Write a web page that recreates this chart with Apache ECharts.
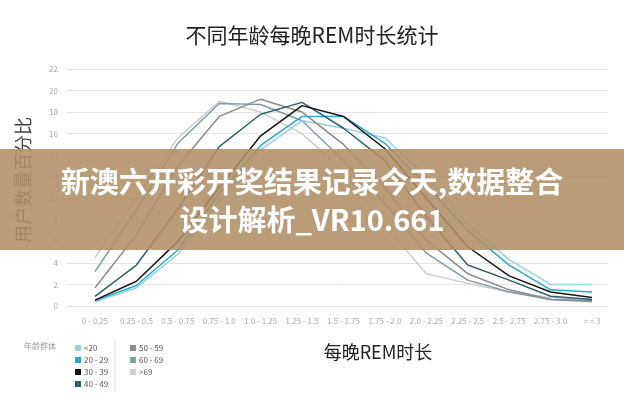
<!DOCTYPE html>
<html>
<head>
<meta charset="utf-8">
<script src="https://cdn.jsdelivr.net/npm/echarts@6/dist/echarts.min.js"></script>
<style>
  html, body { margin: 0; padding: 0; background: #fff; }
  #chart { width: 624px; height: 400px; }
</style>
</head>
<body>
<div id="chart"></div>
<script>
// 数据
const categories = ['0 - 0.25', '0.25 - 0.5', '0.5 - 0.75', '0.75 - 1.0', '1.0 - 1.25', '1.25 - 1.5',
  '1.5 - 1.75', '1.75 - 2.0', '2.0 - 2.25', '2.25 - 2.5', '2.5 - 2.75', '2.75 - 3.0', '> = 3'];
const yTicks = [0, 22, 2]; // min, max, interval

const ageUnder20 = [0.4, 1.7, 4.8, 9.8, 14.5, 17.2, 16.5, 15.6, 12.0, 7.6, 4.3, 2.0, 2.0];
const age20to29  = [0.5, 1.9, 5.2, 10.4, 14.9, 17.6, 17.6, 15.1, 11.2, 7.0, 3.8, 1.5, 1.3];
const age30to39  = [0.55, 2.3, 6.0, 11.0, 15.8, 18.6, 17.6, 14.6, 10.0, 5.5, 2.8, 1.3, 0.8];
const age40to49  = [0.9, 3.8, 9.0, 14.8, 17.8, 18.9, 16.5, 13.5, 8.3, 3.8, 2.4, 0.9, 0.6];
const age50to59  = [1.7, 6.6, 13.0, 17.6, 19.2, 18.0, 15.0, 11.0, 6.1, 3.0, 1.5, 0.6, 0.5];
const age60to69  = [3.2, 8.9, 15.1, 18.8, 18.7, 17.2, 13.5, 9.5, 4.9, 2.4, 1.3, 0.6, 0.4];
const ageOver69  = [4.5, 10.0, 15.6, 19.0, 18.0, 16.0, 12.5, 7.5, 3.0, 2.1, 1.3, 0.8, 0.6];

const seriesNames = ['<20', '20 - 29', '30 - 39', '40 - 49', '50 - 59', '60 - 69', '>69'];
const seriesData = [ageUnder20, age20to29, age30to39, age40to49, age50to59, age60to69, ageOver69];
const seriesColors = ['#94d2e4', '#2ba6cd', '#151515', '#2c6074', '#8a8a8a', '#7e9cab', '#cdcdcd'];
const seriesZ = [3, 4, 7, 6, 5, 2, 1];

const font = 'Noto Sans CJK SC';
const chart = echarts.init(document.getElementById('chart'));

const option = {
  backgroundColor: '#fff',
  animation: false,
  textStyle: { fontFamily: font },
  title: {
    text: '不同年龄每晚REM时长统计',
    left: 'center',
    top: 20,
    textStyle: { fontSize: 21, fontWeight: 'normal', color: '#222', fontFamily: font }
  },
  legend: [
    {
      data: seriesNames.slice(0, 4),
      orient: 'vertical',
      left: 70, top: 339,
      itemWidth: 6, itemHeight: 6, itemGap: 4,
      icon: 'rect',
      textStyle: { fontSize: 8, color: '#555', padding: [0, 0, 0, -2] }
    },
    {
      data: seriesNames.slice(4),
      orient: 'vertical',
      left: 125, top: 339,
      itemWidth: 6, itemHeight: 6, itemGap: 4,
      icon: 'rect',
      textStyle: { fontSize: 8, color: '#555', padding: [0, 0, 0, -2] }
    }
  ],
  grid: [
    { left: 67, right: 16, top: 69, bottom: 94 },
    { left: 95, right: 32, top: 69, bottom: 94 }
  ],
  xAxis: [
    { type: 'category', gridIndex: 0, data: categories, show: false },
    {
      type: 'category', gridIndex: 1, data: categories, boundaryGap: false,
      axisLine: { show: false }, axisTick: { show: false },
      axisLabel: { interval: 0, fontSize: 8, color: '#aaa', margin: 11 }
    }
  ],
  yAxis: [
    {
      type: 'value', gridIndex: 0,
      min: yTicks[0], max: yTicks[1], interval: yTicks[2],
      axisLine: { show: false }, axisTick: { show: false },
      axisLabel: { fontSize: 8, color: '#aaa', margin: 9 },
      splitLine: { lineStyle: { color: '#e4e4e4', width: 1 } }
    },
    {
      type: 'value', gridIndex: 1,
      min: yTicks[0], max: yTicks[1], interval: yTicks[2],
      show: false, splitLine: { show: false }
    }
  ],
  series: seriesNames.map((name, i) => ({
    name: name,
    type: 'line',
    xAxisIndex: 1,
    yAxisIndex: 1,
    data: seriesData[i],
    showSymbol: false,
    symbol: 'none',
    z: seriesZ[i],
    itemStyle: { color: seriesColors[i] },
    lineStyle: { color: seriesColors[i], width: 1.5 }
  })),
  graphic: [
    {
      type: 'text', x: 23, y: 180, rotation: Math.PI / 2,
      style: { text: '用户数量百分比', fontSize: 18, fill: '#444', fontFamily: font,
        textAlign: 'center', textVerticalAlign: 'middle' }
    },
    {
      type: 'text', x: 378, y: 352,
      style: { text: '每晚REM时长', fontSize: 18, fill: '#222', fontFamily: font,
        textAlign: 'center', textVerticalAlign: 'middle' }
    },
    {
      type: 'text', x: 24, y: 346,
      style: { text: '年龄群体', fontSize: 8, fill: '#999', fontFamily: font, textVerticalAlign: 'middle' }
    },
    {
      type: 'line', shape: { x1: 115, y1: 340, x2: 115, y2: 392 },
      style: { stroke: '#ddd', lineWidth: 1 }
    },
    {
      type: 'rect', z: 100, shape: { x: 0, y: 149, width: 624, height: 101 },
      style: { fill: 'rgba(176, 142, 102, 0.88)' }
    },
    {
      type: 'text', z: 101, x: 312, y: 182,
      style: { text: '新澳六开彩开奖结果记录今天,数据整合', fontSize: 29, fontWeight: 'bold',
        fill: '#fff', fontFamily: font, textAlign: 'center', textVerticalAlign: 'middle' }
    },
    {
      type: 'text', z: 101, x: 312, y: 220,
      style: { text: '设计解析_VR10.661', fontSize: 29, fontWeight: 'bold',
        fill: '#fff', fontFamily: font, textAlign: 'center', textVerticalAlign: 'middle' }
    }
  ]
};

chart.setOption(option);
window.addEventListener('resize', chart.resize);
</script>
</body>
</html>
